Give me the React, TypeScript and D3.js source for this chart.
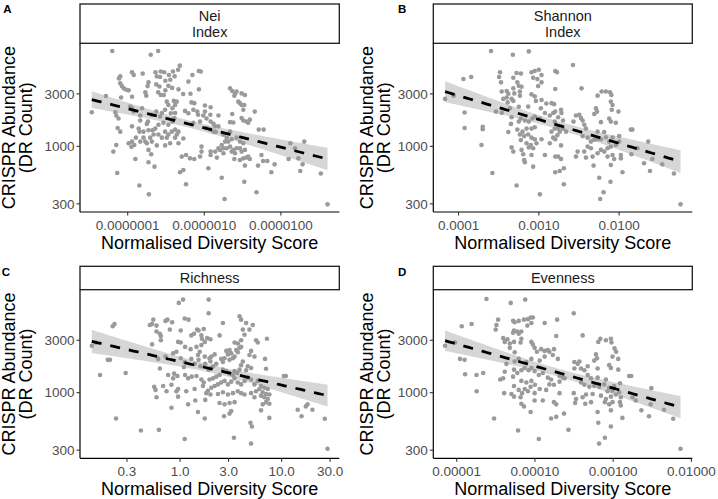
import React from 'react';
import * as d3 from 'd3';

const W = 718;
const H = 499;
const FONT = '"Liberation Sans", Arial, Helvetica, sans-serif';

// ---------- data (x = normalised diversity score, y = DR count) ----------
const neiData: [number, number][] = [
[6.3e-8,7370],[2.0e-7,6800],[2.5e-7,7370],[4.8e-7,5420],[4.55e-7,4980],[3.9e-7,4790],[2.7e-7,4790],[2.3e-7,4720],[3.0e-7,4720],[1.57e-7,4590],[1.14e-7,4720],[1.2e-7,4460],[8.0e-8,4330],[7.7e-8,4150],[2.4e-7,4330],[2.65e-7,4270],[3.45e-7,4460],[4.1e-7,4330],[3.1e-7,3950],[3.6e-7,4040],[8.5e-7,4840],[9.0e-7,4790],[7.0e-7,4460],[6.2e-7,3880],[1.87e-7,3820],[1.82e-7,3530],[8.0e-8,3740],[8.4e-8,3530],[8.9e-8,3370],[9.6e-8,3270],[1.03e-7,3230],[2.36e-7,3660],[2.6e-7,3500],[3.4e-7,3550],[3.1e-7,3230],[2.5e-7,3100],[2.7e-7,2930],[2.96e-7,2930],[1.7e-7,3100],[1.75e-7,2890],[1.14e-7,2830],[8.2e-8,2780],[5.2e-8,2870],[5.3e-7,2990],[6.6e-7,3010],[8.5e-7,3300],[4.6e-7,3300],[3.8e-7,3400],
[3.4e-8,2040],[6.9e-8,2040],[7.1e-8,1910],[7.6e-8,1790],[1.14e-7,2220],[1.2e-7,2070],[1.46e-7,1910],[1.54e-7,2220],[1.08e-7,2300],[3.24e-7,2550],[3.4e-7,2380],[4.0e-7,2590],[4.16e-7,2380],[4.37e-7,2550],[3.84e-7,2220],[3.08e-7,2150],[2.8e-7,2010],[2.36e-7,2070],[2.07e-7,1940],[2.65e-7,1870],[3.66e-7,2000],[4.16e-7,2010],[4.07e-7,1810],[3.84e-7,1680],[3.4e-7,1570],[2.93e-7,1640],[2.52e-7,1570],[2.29e-7,1450],[2.11e-7,1400],[1.87e-7,1400],[1.61e-7,1360],[1.43e-7,1360],[1.39e-7,1450],[1.14e-7,1520],[1.84e-7,1680],[1.78e-7,1600],[1.46e-7,1720],[6.8e-7,2510],[7.4e-7,2470],[5.6e-7,2100],[6.2e-7,2000],[7.2e-7,2150],[8.1e-7,2070],[8.3e-7,1940],[8.8e-7,1680],[7.2e-7,1640],[1.02e-6,2350],[1.21e-6,2270],[1.02e-6,2070],[9.7e-7,1910],[1.07e-6,1790],[1.21e-6,1680],[1.07e-6,1470],
[7.4e-8,1470],[8.0e-8,1360],[3.08e-7,1360],[3.4e-7,1280],[3.76e-7,1360],[4.16e-7,1420],[4.37e-7,1280],[4.6e-7,1360],[3.24e-7,1200],[2.79e-7,1200],[2.52e-7,1280],[2.18e-7,1280],[1.97e-7,1200],[1.61e-7,1200],[1.46e-7,1105],[1.28e-7,1200],[1.14e-7,1105],[1.03e-7,1067],[1.12e-7,990],[1.22e-7,1030],[2.07e-7,1105],[1.7e-7,1105],[1.78e-7,1067],[2.4e-7,1020],[3.08e-7,1020],[3.58e-7,1067],[4.16e-7,1200],[5.33e-7,1180],[4.6e-7,1067],
[6.5e-8,896],[7.1e-8,1030],[1.87e-7,928],[2.03e-7,848],[1.26e-7,767],[1.87e-7,716],[2.24e-7,654],[5.08e-7,807],[5.78e-7,835],[6.5e-7,778],[7.4e-7,767],[8.8e-7,807],[9.2e-7,896],[9.2e-7,995],[1.21e-6,896],[1.21e-6,835],[1.13e-6,632],[4.83e-7,581],[5.33e-7,610],[7.3e-8,573],[1.42e-7,440],[5.78e-7,452],[1.89e-7,366],
[2.17e-6,3370],[2.32e-6,3190],[2.52e-6,3030],[2.64e-6,3150],[3.07e-6,3030],[3.39e-6,2930],[2.47e-6,2890],[2.78e-6,2550],[2.92e-6,2470],[3.07e-6,2380],[3.33e-6,2380],[3.23e-6,2150],[4.56e-6,2070],[2.32e-6,1970],[1.53e-6,1910],[1.2e-6,1940],[3.07e-6,1810],[3.23e-6,1720],[3.56e-6,1680],[3.93e-6,1750],[3.74e-6,1640],[2.17e-6,1660],[2.39e-6,1650],[1.32e-6,1600],[1.39e-6,1520],[1.53e-6,1520],[1.2e-6,1420],[1.32e-6,1360],[1.41e-6,1350],[5.14e-6,1420],[5.95e-6,1420],[2.17e-6,1360],[1.78e-6,1280],[1.96e-6,1200],[2.06e-6,1105],[2.28e-6,1160],[2.64e-6,1200],[2.92e-6,1105],[3.23e-6,1067],[1.87e-6,1105],[1.69e-6,1030],[1.53e-6,961],[1.61e-6,928],[1.78e-6,961],[1.96e-6,961],[2.17e-6,995],[2.39e-6,928],[2.64e-6,961],[2.92e-6,961],[3.07e-6,896],[3.39e-6,928],[2.52e-6,865],[2.28e-6,896],[1.78e-6,865],[1.39e-6,896],[1.46e-6,790],[2.47e-6,767],[2.92e-6,752],[3.23e-6,778],[3.56e-6,790],[3.74e-6,807],[3.93e-6,767],[5.57e-6,835],[5.86e-6,737],[6.65e-6,737],[3.39e-6,668],[5.04e-6,668],[8.28e-6,686],[7.5e-6,581],[1.33e-5,1067],[1.53e-5,961],[2.02e-5,1105],[1.26e-5,767],[1.69e-5,778],[1.92e-5,686],[1.79e-5,597],[3.32e-5,566],[1.69e-6,519],[3.33e-6,477],[4.8e-6,382],[1.84e-6,332],[4.06e-5,297]
];

const shannonData: [number, number][] = [
[2.54e-4,7370],[4.75e-4,6800],[7.5e-4,7300],[1.15e-4,4100],[1.44e-4,4270],[6.8e-5,2700],[8.7e-5,2890],[1.19e-4,2030],[1.19e-4,1470],[2.0e-4,1510],[2.0e-4,1430],[1.93e-4,1030],[2.64e-4,573],[3.29e-4,4720],[3.2e-4,4270],[3.38e-4,3820],[4.81e-4,4200],[5.28e-4,4650],[5.97e-4,4590],[8.1e-4,4720],[8.9e-4,4840],[1.0e-3,4980],[1.08e-3,4460],[9.6e-4,4100],[8.5e-4,4200],[1.08e-3,3820],[9.8e-4,3530],[1.6e-3,4840],[1.68e-3,4720],[1.6e-3,3320],[5.4e-4,3820],[5.63e-4,3550],[6.09e-4,3480],[3.98e-4,3190],[4.17e-4,3010],[4.81e-4,3370],[4.95e-4,3030],[5.81e-4,2890],[5.81e-4,3150],[4.81e-4,2590],[4.58e-4,2700],[5.63e-4,2290],[4.09e-4,2510],[8.1e-4,2970],[8.9e-4,2850],[9.2e-4,2590],[1.08e-3,2640],[1.24e-3,2450],[1.44e-3,2470],[1.55e-3,2420],[1.6e-3,2070],[1.06e-3,2220],[7.37e-4,2300],[2.93e-4,2070],[3.45e-4,2020],[4.37e-4,2220],[4.58e-4,1840],[4.5e-4,1600],[4.17e-4,1350],[5.63e-4,1680],[5.97e-4,1790],[6.7e-4,1720],[7.5e-4,1680],[8.3e-4,1790],[8.9e-4,1870],[1.03e-3,1790],[1.19e-3,2010],[1.37e-3,1910],[1.51e-3,2010],[1.58e-3,1680],[1.74e-3,1840],[1.91e-3,2010],[2.0e-3,1720],[5.4e-4,1420],[6.26e-4,1360],[7.03e-4,1450],[8.1e-4,1450],[8.9e-4,1490],[5.81e-4,1280],[6.57e-4,1240],[7.37e-4,1280],[8.1e-4,1200],[8.9e-4,1160],[5.97e-4,1140],[7.03e-4,1067],[7.95e-4,1030],[7.5e-4,978],[8.5e-4,961],[1.08e-3,1160],[9.35e-4,1067],[1.37e-3,1067],[1.51e-3,1200],[1.44e-3,1360],[1.58e-3,1450],[1.74e-3,1450],[1.7e-3,1260],[1.6e-3,1160],[1.82e-3,1360],[2.0e-3,1450],[4.58e-4,978],[4.81e-4,896],[6.09e-4,928],[6.39e-4,848],[6.57e-4,752],[6.7e-4,716],[8.5e-4,654],[8.1e-4,835],[1.19e-3,835],[1.6e-3,807],[1.74e-3,807],[1.6e-3,581],[1.82e-3,597],[2.05e-3,632],[2.05e-3,452],[5.28e-4,440],[1.03e-3,366],[3.45e-4,3150],[3.61e-4,2700],[3.98e-4,2780],
[2.66e-3,5500],[3.4e-3,3370],[5.39e-3,2890],[6.05e-3,3150],[6.84e-3,3150],[7.7e-3,3100],[8.0e-3,2930],[7.88e-3,2550],[8.27e-3,2380],[8.1e-3,2150],[5.14e-3,2220],[5.3e-3,2070],[4.9e-3,1970],[2.9e-3,1910],[3.19e-3,1940],[3.35e-3,1810],[3.51e-3,1720],[2.7e-3,1680],[1.89e-3,2150],[2.18e-3,1360],[9.8e-3,2070],[7.52e-3,1790],[7.88e-3,1680],[9.09e-3,1640],[5.93e-3,1660],[3.68e-3,1570],[3.86e-3,1450],[1.4e-2,1420],[1.46e-2,1420],[5.39e-3,1360],[6.52e-3,1350],[3.51e-3,1240],[4.05e-3,1200],[4.45e-3,1105],[4.9e-3,1150],[5.39e-3,1160],[5.93e-3,1160],[6.84e-3,1210],[7.52e-3,1105],[8.27e-3,1200],[1.0e-2,1240],[9.09e-3,1030],[1.0e-2,1105],[7.88e-3,995],[7.17e-3,961],[5.93e-3,928],[4.45e-3,961],[4.05e-3,995],[3.68e-3,896],[3.04e-3,896],[2.9e-3,807],[3.86e-3,790],[4.67e-3,807],[1.89e-3,1020],[1.89e-3,767],[5.39e-3,865],[6.52e-3,896],[7.17e-3,807],[8.27e-3,835],[8.67e-3,767],[1.05e-2,835],[1.05e-2,778],[7.88e-3,677],[4.8e-3,668],[1.1e-2,581],[1.69e-2,961],[1.42e-2,848],[2.3e-2,1105],[2.04e-2,701],[2.42e-2,597],[2.59e-2,767],[3.44e-2,686],[4.81e-2,566],[5.65e-3,519],[7.8e-3,477],[6.4e-3,382],[5.8e-3,332],[5.81e-2,297]
];

const richnessData: [number, number][] = [
[0.135,2670],[0.148,2860],[0.163,1450],[0.217,4020],[0.226,4220],[0.194,1990],[0.204,1990],[0.291,1510],[0.234,583],[0.411,453],[0.618,459],[1.11,379],[0.97,6560],[1.07,7030],[1.91,7030],[1.91,5290],[0.504,4130],[0.53,4220],[0.544,4620],[0.586,4080],[0.586,3610],[0.632,3440],[0.646,3280],[0.646,3000],[0.718,4500],[0.752,4620],[0.835,4370],[0.792,3750],[1.11,4730],[1.21,4620],[1.015,3680],[1.29,3320],[1.37,3440],[1.47,3750],[1.52,3680],[1.71,3800],[1.62,3320],[1.64,3100],[1.75,2900],[1.85,3140],[1.99,3060],[0.956,2900],[1.015,2860],[1.12,2610],[1.27,2490],[1.45,2610],[1.62,2710],[1.56,2360],[1.5,2200],[1.52,1990],[1.75,2130],[1.95,2060],[1.99,1920],[0.53,2750],[0.608,2030],[0.632,1660],[0.718,2130],[0.854,2280],[0.921,2360],[1.015,2060],[1.11,1900],[1.29,2030],[1.39,1830],[1.59,1740],[1.77,1830],[1.91,1620],[2.03,1680],[1.09,1710],[0.874,1490],[0.854,1350],[0.942,1420],[1.12,1450],[1.2,1350],[1.3,1400],[1.45,1420],[1.62,1320],[1.71,1240],[1.68,1150],[1.88,1040],[1.99,962],[1.81,990],[0.556,1130],[0.573,1060],[0.586,908],[0.681,1150],[0.735,1030],[0.822,1180],[0.921,1030],[0.956,1080],[1.15,1030],[1.39,1080],[0.822,730],[1.2,783],[1.41,849],[1.5,668],[1.77,860],[1.75,583],[0.762,1450],[0.956,920],
[2.64,4310],[2.45,3320],[3.85,4950],[3.99,4620],[4.47,4310],[4.82,3750],[5.2,4130],[4.15,3750],[4.31,3370],[5.6,3000],[5.82,2860],[7.16,3100],[3.44,2860],[3.7,2800],[3.99,3000],[3.85,2560],[3.57,2440],[3.7,2330],[3.99,2610],[3.07,2440],[2.85,2400],[2.96,2230],[3.19,2280],[3.31,2060],[3.44,2130],[3.07,1990],[2.74,2060],[2.54,2030],[2.64,1900],[2.19,2230],[2.03,2130],[2.27,1830],[2.11,1740],[5.0,2400],[4.82,2200],[5.4,2130],[6.86,2030],[7.02,1650],[5.0,1680],[4.64,1740],[4.47,1600],[4.15,1920],[3.99,1780],[3.85,1620],[3.65,1510],[3.44,1570],[3.31,1450],[3.07,1490],[2.85,1570],[2.64,1620],[2.45,1450],[2.27,1400],[2.11,1350],[1.95,1320],[2.03,1110],[2.19,1150],[2.36,1190],[2.54,1240],[2.74,1280],[2.96,1190],[3.19,1260],[3.44,1350],[3.7,1240],[3.99,1190],[4.31,1280],[4.64,1370],[5.0,1320],[5.4,1190],[5.82,1280],[6.27,1150],[6.76,1110],[7.29,1080],[6.04,1080],[5.6,1030],[6.51,1010],[7.02,972],[7.57,962],[6.27,940],[6.76,908],[7.29,877],[7.02,820],[7.57,792],[6.51,783],[6.27,691],[7.57,590],[5.4,908],[5.0,990],[4.31,962],[3.99,990],[3.7,1030],[3.31,990],[2.96,962],[2.64,1010],[2.36,972],[3.44,820],[3.07,805],[2.74,783],[2.45,805],[2.71,610],[3.19,682],[3.07,645],[4.93,533],[5.1,492],[3.39,389],[5.0,344],[10.5,1420],[11.0,1420],[14.4,700],[15.7,610],[17.3,750],[18.0,783],[20.1,700],[26.6,580],[28.3,309]
];

const evennessData: [number, number][] = [
[7.1e-6,2670],[9.5e-6,2860],[1.16e-5,4020],[1.55e-5,4220],[1.1e-5,2030],[1.26e-5,1990],[1.28e-5,1470],[1.79e-5,1450],[2.18e-5,1510],[1.8e-5,1030],[3.0e-5,583],[2.4e-5,7130],[4.9e-5,6560],[7.5e-5,7030],[3.38e-5,4620],[3.15e-5,3750],[3.22e-5,4130],[5.25e-5,4520],[5.5e-5,4370],[6.2e-5,4500],[7.23e-5,4620],[8.14e-5,4670],[8.8e-5,4830],[9.4e-5,4830],[9.0e-5,4310],[8.0e-5,4080],[1.33e-4,4310],[1.92e-4,4620],[1.87e-4,3280],[5.4e-5,3680],[5.95e-5,3610],[6.2e-5,3440],[6.7e-5,3610],[5.25e-5,3510],[3.92e-5,3140],[4.45e-5,3060],[4.11e-5,2900],[4.77e-5,2800],[5.4e-5,2900],[6.55e-5,2860],[6.7e-5,3100],[4.77e-5,2560],[5.51e-5,2330],[9.0e-5,2900],[9.4e-5,2750],[9.9e-5,2560],[1.06e-4,2360],[1.2e-4,2490],[1.33e-4,2400],[1.46e-4,2440],[1.53e-4,2360],[1.75e-4,2490],[1.69e-4,2200],[1.96e-4,2030],[1.33e-4,2130],[1.15e-4,1960],[9.0e-5,2030],[7.76e-5,1900],[6.2e-5,2030],[5.5e-5,1920],[4.32e-5,1830],[3.92e-5,1350],[3.6e-5,1320],[4.11e-5,1550],[5.25e-5,1400],[5.4e-5,1620],[5.95e-5,1510],[6.7e-5,1600],[7.38e-5,1680],[8.3e-5,1600],[9.0e-5,1680],[9.9e-5,1570],[1.12e-4,1450],[1.26e-4,1510],[1.46e-4,1370],[1.61e-4,1320],[1.53e-4,1190],[1.75e-4,1180],[2.06e-4,1260],[2.06e-4,1420],[2.27e-4,1370],[6.7e-5,1280],[7.76e-5,1240],[9.0e-5,1280],[1.0e-4,1180],[8.8e-5,1130],[7.4e-5,1080],[6.2e-5,1060],[5.4e-5,1150],[6.85e-5,990],[8.14e-5,1030],[9.9e-5,990],[1.15e-4,1080],[1.39e-4,1060],[6.55e-5,908],[5.4e-5,920],[5.0e-5,972],[4.04e-5,990],[6.7e-5,792],[7.23e-5,750],[8.8e-5,668],[9.9e-5,849],[1.26e-4,849],[1.75e-4,820],[1.87e-4,783],[2.06e-4,990],[1.61e-4,583],[1.87e-4,603],[2.35e-4,645],[6.08e-5,453],[1.12e-4,379],
[3.13e-4,5290],[4.07e-4,3320],[6.45e-4,2900],[6.85e-4,3100],[8.06e-4,3000],[9.34e-4,3100],[9.5e-4,2860],[1.04e-3,2530],[1.09e-3,2360],[9.8e-4,2130],[1.16e-3,2030],[6.02e-4,2230],[6.2e-4,2060],[5.73e-4,1960],[3.19e-4,1900],[3.7e-4,1920],[3.52e-4,1830],[4.72e-4,1740],[3.88e-4,1660],[3.19e-4,1660],[8.89e-4,1780],[9.34e-4,1680],[1.16e-3,1620],[6.32e-4,1660],[4.28e-4,1600],[4.72e-4,1450],[5.2e-4,1350],[2.4e-4,1350],[1.6e-3,1420],[1.7e-3,1420],[6.32e-4,1370],[8.06e-4,1320],[3.88e-4,1240],[4.28e-4,1180],[4.95e-4,1130],[5.73e-4,1150],[6.64e-4,1130],[7.68e-4,1190],[8.89e-4,1110],[1.03e-3,1150],[1.22e-3,1220],[8.47e-4,1030],[9.8e-4,1040],[1.08e-3,962],[1.19e-3,1010],[1.25e-3,908],[9.34e-4,920],[8.06e-4,877],[6.97e-4,940],[5.46e-4,972],[4.5e-4,962],[4.07e-4,908],[3.35e-4,877],[3.13e-4,990],[3.26e-4,805],[4.39e-4,792],[5.2e-4,820],[7.83e-4,820],[8.89e-4,783],[9.8e-4,820],[1.22e-3,820],[1.25e-3,765],[9.34e-4,691],[6.32e-4,668],[1.31e-3,590],[2.68e-4,459],[1.76e-3,908],[1.94e-3,849],[3.07e-3,1100],[2.29e-3,691],[3.01e-3,783],[2.87e-3,610],[4.45e-3,700],[5.85e-3,580],[6.45e-4,533],[9.34e-4,492],[7.83e-4,389],[6.6e-4,344],[7.25e-3,309]
];

// ---------- labels & ticks ----------
const stripLabels = [['Nei', 'Index'], ['Shannon', 'Index'], ['Richness'], ['Evenness']];
const panelLetters = ['A', 'B', 'C', 'D'];
const yTicks = [300, 1000, 3000];
const yTickLabels = ['300', '1000', '3000'];
const neiTicks = [1e-7, 1e-6, 1e-5];
const neiTickLabels = ['0.0000001', '0.0000010', '0.0000100'];
const shannonTicks = [1e-4, 1e-3, 1e-2];
const shannonTickLabels = ['0.0001', '0.0010', '0.0100'];
const richnessTicks = [0.3, 1, 3, 10, 30];
const richnessTickLabels = ['0.3', '1.0', '3.0', '10.0', '30.0'];
const evennessTicks = [1e-5, 1e-4, 1e-3, 1e-2];
const evennessTickLabels = ['0.00001', '0.00010', '0.00100', '0.01000'];
const xTitle = 'Normalised Diversity Score';
const yTitle = ['CRISPR Abundance', '(DR Count)'];

// ---------- layout ----------
const layout = [
  { x0: 80, x1: 339.3, y0: 43.3, y1: 212, sy0: 4, letter: [3.3, 12.7], yt: [14.8, 31.7], tk: 18.0, tt: 37.0 },
  { x0: 433.3, x1: 692.3, y0: 43.3, y1: 212, sy0: 4, letter: [398, 12.7], yt: [372.5, 389.5], tk: 18.0, tt: 37.0 },
  { x0: 80, x1: 339.3, y0: 289.7, y1: 458.3, sy0: 266.3, letter: [1.7, 275.7], yt: [14.8, 31.7], tk: 17.3, tt: 37.0 },
  { x0: 433.3, x1: 692.3, y0: 289.7, y1: 458.3, sy0: 266.3, letter: [398, 275.7], yt: [372.5, 389.5], tk: 17.3, tt: 37.0 },
];

const panelData = [neiData, shannonData, richnessData, evennessData];
const panelTicks = [neiTicks, shannonTicks, richnessTicks, evennessTicks];
const panelTickLabels = [neiTickLabels, shannonTickLabels, richnessTickLabels, evennessTickLabels];

const lg = Math.log10;

function expandLog(ext: [number, number]): [number, number] {
  const a = lg(ext[0]);
  const b = lg(ext[1]);
  const e = (b - a) * 0.05;
  return [Math.pow(10, a - e), Math.pow(10, b + e)];
}

const allY = panelData.flatMap((d) => d.map((p) => p[1]));
const yDomain = expandLog(d3.extent(allY) as [number, number]);

function fitLm(data: [number, number][]) {
  const u = data.map((d) => lg(d[0]));
  const v = data.map((d) => lg(d[1]));
  const n = u.length;
  const um = d3.mean(u) as number;
  const vm = d3.mean(v) as number;
  let sxx = 0;
  let sxy = 0;
  for (let i = 0; i < n; i++) {
    sxx += (u[i] - um) ** 2;
    sxy += (u[i] - um) * (v[i] - vm);
  }
  const b = sxy / sxx;
  const a = vm - b * um;
  let sse = 0;
  for (let i = 0; i < n; i++) sse += (v[i] - a - b * u[i]) ** 2;
  const s = Math.sqrt(sse / (n - 2));
  const t = 1.97;
  const [u0, u1] = d3.extent(u) as [number, number];
  return d3.range(80).map((i) => {
    const uu = u0 + ((u1 - u0) * i) / 79;
    const yy = a + b * uu;
    const se = s * Math.sqrt(1 / n + (uu - um) ** 2 / sxx);
    return { x: Math.pow(10, uu), y: Math.pow(10, yy), lo: Math.pow(10, yy - t * se), hi: Math.pow(10, yy + t * se) };
  });
}

function Panel({ i }: { i: number }) {
  const L = layout[i];
  const data = panelData[i];
  const x = d3.scaleLog().domain(expandLog(d3.extent(data, (d) => d[0]) as [number, number])).range([L.x0, L.x1]);
  const y = d3.scaleLog().domain(yDomain).range([L.y1, L.y0]);
  const fit = fitLm(data);
  const area = d3.area<any>().x((d) => x(d.x)).y0((d) => y(d.lo)).y1((d) => y(d.hi));
  const line = d3.line<any>().x((d) => x(d.x)).y((d) => y(d.y));
  const strip = stripLabels[i];
  const scy = (L.sy0 + L.y0) / 2;
  const cy = (L.y0 + L.y1) / 2;
  const cx = (L.x0 + L.x1) / 2;
  return (
    <g>
      <rect x={L.x0} y={L.sy0} width={L.x1 - L.x0} height={L.y0 - L.sy0} fill="#ffffff" stroke="#1a1a1a" strokeWidth={1.3} />
      {strip.map((s, k) => (
        <text key={k} x={cx} y={scy + (k - (strip.length - 1) / 2) * 16.6 + 5.2} textAnchor="middle" fontSize={14.5} fill="#1a1a1a">{s}</text>
      ))}
      {data.map((d, k) => (
        <circle key={k} cx={x(d[0])} cy={y(d[1])} r={2.3} fill="#9a9a9a" />
      ))}
      <path d={area(fit) as string} fill="#999999" fillOpacity={0.4} />
      <path d={line(fit) as string} fill="none" stroke="#000" strokeWidth={2.8} strokeDasharray="10,9" />
      <line x1={L.x0} x2={L.x0} y1={L.y0} y2={L.y1} stroke="#000" strokeWidth={1.2} />
      <line x1={L.x0} x2={L.x1} y1={L.y1} y2={L.y1} stroke="#000" strokeWidth={1.2} />
      {yTicks.map((t, k) => (
        <g key={k}>
          <line x1={L.x0 - 3.5} x2={L.x0} y1={y(t)} y2={y(t)} stroke="#333" strokeWidth={1.1} />
          <text x={L.x0 - 5.5} y={y(t) + 4.7} textAnchor="end" fontSize={13.5} fill="#4d4d4d">{yTickLabels[k]}</text>
        </g>
      ))}
      {panelTicks[i].map((t, k) => (
        <g key={k}>
          <line x1={x(t)} x2={x(t)} y1={L.y1} y2={L.y1 + 3.5} stroke="#333" strokeWidth={1.1} />
          <text x={x(t)} y={L.y1 + L.tk} textAnchor="middle" fontSize={13.5} fill="#4d4d4d">{panelTickLabels[i][k]}</text>
        </g>
      ))}
      <text x={cx} y={L.y1 + L.tt} textAnchor="middle" fontSize={18} fill="#000">{xTitle}</text>
      {yTitle.map((s, k) => (
        <text key={k} transform={`translate(${L.yt[k]},${cy}) rotate(-90)`} textAnchor="middle" fontSize={18} fill="#000">{s}</text>
      ))}
      <text x={L.letter[0]} y={L.letter[1]} fontSize={11.5} fontWeight="bold" fill="#000">{panelLetters[i]}</text>
    </g>
  );
}

export default function App() {
  return (
    <svg width={W} height={H} viewBox={`0 0 ${W} ${H}`} style={{ position: 'absolute', left: 0, top: 0, background: '#fff' }} fontFamily={FONT}>
      <rect width={W} height={H} fill="#fff" />
      {[0, 1, 2, 3].map((i) => (
        <Panel key={i} i={i} />
      ))}
    </svg>
  );
}
